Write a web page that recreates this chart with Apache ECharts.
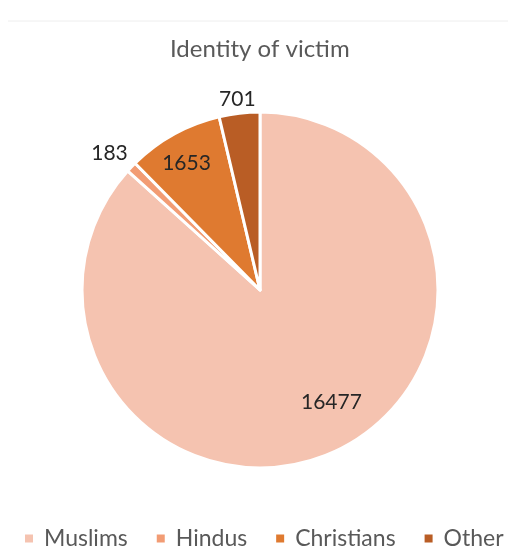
<!DOCTYPE html>
<html><head><meta charset="utf-8">
<script src="https://cdn.jsdelivr.net/npm/echarts@6/dist/echarts.min.js"></script>
<style>html,body{margin:0;padding:0;background:#fff}#c{width:508px;height:546px}</style>
</head><body><div id="c"></div>
<script>
var categories = ['Muslims', 'Hindus', 'Christians', 'Other'];
var values = [16477, 183, 1653, 701];
var colors = ['#F5C3B0', '#F29C74', '#DF7A30', '#B95D25'];
var labelOffsets = [[34, 28], [-84, -73], [-29, -46], [-12, -99]];

var chart = echarts.init(document.getElementById('c'));
var data = categories.map(function (name, i) {
  return {
    name: name, value: values[i],
    itemStyle: { color: colors[i] },
    label: { offset: labelOffsets[i] }
  };
});
chart.setOption({
  animation: false,
  title: {
    text: 'Identity of victim', left: 165, top: 32,
    textStyle: { fontFamily: 'Lato', fontSize: 24, fontWeight: 'normal', color: '#595959' }
  },
  graphic: [{
    type: 'line', shape: { x1: 8, y1: 21, x2: 508, y2: 21 },
    style: { stroke: '#EEEEEE', lineWidth: 1 }
  }],
  legend: {
    data: categories, bottom: -9, left: 18, width: 520, padding: 5,
    icon: 'rect', itemWidth: 10, itemHeight: 10, itemGap: 27,
    textStyle: { fontFamily: 'Lato', fontSize: 23, color: '#595959', padding: [0, 0, 0, 5] }
  },
  series: [{
    type: 'pie', center: [260, 290], radius: [0, 178],
    startAngle: 90, clockwise: true,
    itemStyle: { borderColor: '#fff', borderWidth: 3 },
    label: {
      show: true, position: 'inside', formatter: '{c}',
      fontFamily: 'Lato', fontSize: 21, color: '#262626'
    },
    labelLine: { show: false },
    emphasis: { disabled: true },
    data: data
  }]
});
</script></body></html>
